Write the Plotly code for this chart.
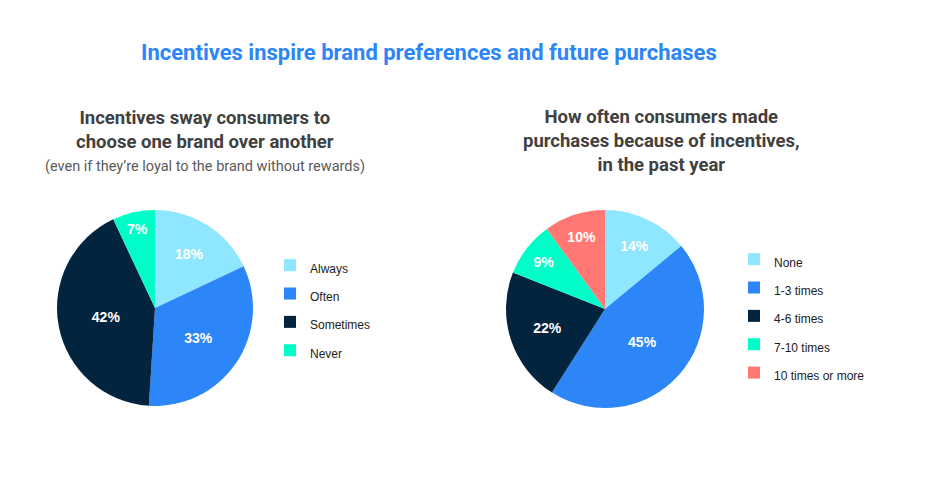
import plotly.graph_objects as go

# Data
left_labels = ["Always", "Often", "Sometimes", "Never"]
left_values = [18, 33, 42, 7]
right_labels = ["None", "1-3 times", "4-6 times", "7-10 times", "10 times or more"]
right_values = [14, 45, 22, 9, 10]

left_colors = ["#8FE6FF", "#2C86F7", "#03243F", "#00FFC8"]
right_colors = ["#8FE6FF", "#2C86F7", "#03243F", "#00FFC8", "#FF7873"]

W, H = 936, 477
OFF = 8  # page body margin

def px_x(x):
    return (x - OFF) / W

def px_y(y):
    return 1 - (y - OFF) / H

LEG_FONT = 19.5

def wrap(lbls):
    return [f"<span style='font-size:12px'>{l}</span>" for l in lbls]

fig = go.Figure()
fig.add_trace(go.Pie(
    labels=wrap(left_labels), values=left_values, sort=False, direction="clockwise",
    marker=dict(colors=left_colors, line=dict(width=0)),
    texttemplate="%{value}%", textposition="inside", insidetextorientation="horizontal",
    textfont=dict(family="Liberation Sans, Arial", size=14, color="white", weight="bold"),
    domain=dict(x=[px_x(57), px_x(253)], y=[px_y(406), px_y(210)]),
    legend="legend", hoverinfo="label+percent",
))
fig.add_trace(go.Pie(
    labels=wrap(right_labels), values=right_values, sort=False, direction="clockwise",
    marker=dict(colors=right_colors, line=dict(width=0)),
    texttemplate="%{value}%", textposition="inside", insidetextorientation="horizontal",
    textfont=dict(family="Liberation Sans, Arial", size=14, color="white", weight="bold"),
    domain=dict(x=[px_x(506), px_x(704)], y=[px_y(408), px_y(210)]),
    legend="legend2", hoverinfo="label+percent",
))

legend_common = dict(
    font=dict(family="Liberation Sans, Arial", size=LEG_FONT, color="#1B1B1B"),
    bgcolor="rgba(0,0,0,0)", xanchor="left", yanchor="top", borderwidth=0,
    itemclick=False, itemdoubleclick=False,
)

fig.update_layout(
    width=W, height=H,
    margin=dict(l=0, r=0, t=0, b=0),
    paper_bgcolor="white", plot_bgcolor="white",
    showlegend=True,
    legend=dict(x=px_x(270), y=px_y(246), **legend_common),
    legend2=dict(x=px_x(734), y=px_y(240), **legend_common),
    annotations=[
        dict(text="Incentives inspire brand preferences and future purchases",
             x=px_x(429), y=px_y(53), xref="paper", yref="paper",
             xanchor="center", yanchor="middle", showarrow=False,
             font=dict(family="Roboto", size=22, color="#2C86F7", weight="bold")),
        dict(text="Incentives sway consumers to<br>choose one brand over another",
             x=px_x(205), y=px_y(130), xref="paper", yref="paper",
             xanchor="center", yanchor="middle", showarrow=False,
             font=dict(family="Roboto", size=18.5, color="#404040", weight="bold")),
        dict(text="(even if they\u2019re loyal to the brand without rewards)",
             x=px_x(205), y=px_y(166), xref="paper", yref="paper",
             xanchor="center", yanchor="middle", showarrow=False,
             font=dict(family="Roboto", size=14.5, color="#5A5A5A")),
        dict(text="How often consumers made<br>purchases because of incentives,<br>in the past year",
             x=px_x(661), y=px_y(141), xref="paper", yref="paper",
             xanchor="center", yanchor="middle", showarrow=False,
             font=dict(family="Roboto", size=18.5, color="#404040", weight="bold")),
    ],
)

fig.write_html("out.html")
